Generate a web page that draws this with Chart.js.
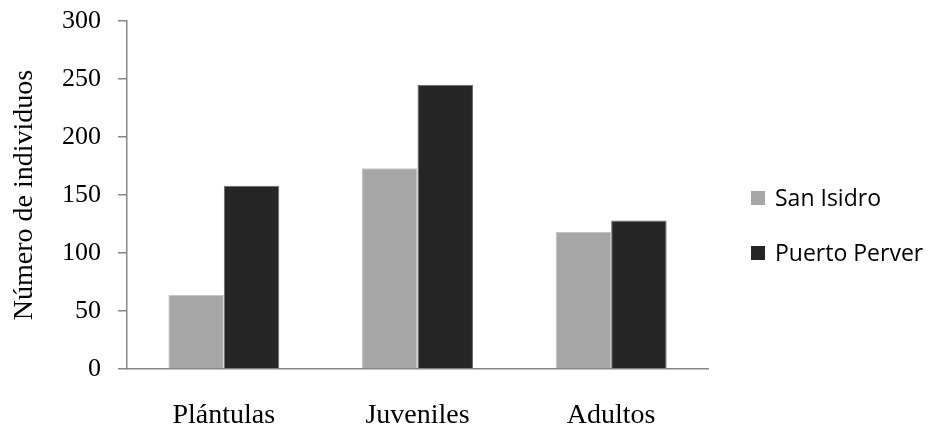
<!DOCTYPE html>
<html>
<head>
<meta charset="utf-8">
<script src="https://cdn.jsdelivr.net/npm/chart.js@4/dist/chart.umd.min.js"></script>
<style>
  html, body { margin: 0; padding: 0; background: #ffffff; }
  #wrap { width: 934px; height: 424px; }
</style>
</head>
<body>
<div id="wrap"><canvas id="c" width="934" height="424"></canvas></div>
<script>
// Individuals counted per life stage at each site
const categories = ['Plántulas', 'Juveniles', 'Adultos'];
const sanIsidro = [64, 173, 118];
const puertoPerver = [158, 245, 128];
const seriesNames = ['San Isidro', 'Puerto Perver'];
const yTicks = [0, 50, 100, 150, 200, 250, 300];

const SERIF = '"Liberation Serif", "Times New Roman", serif';
const AXIS_GREY = '#868686';

// Legend drawn to the right of the plot area
const sideLegend = {
  id: 'sideLegend',
  afterDraw(chart) {
    const ctx = chart.ctx;
    const x = 751, box = 14, gap = 10, firstY = 198, step = 55;
    ctx.save();
    ctx.font = '23px "Open Sans", sans-serif';
    ctx.textBaseline = 'middle';
    ctx.textAlign = 'left';
    chart.data.datasets.forEach((ds, i) => {
      const cy = firstY + i * step;
      ctx.fillStyle = ds.backgroundColor;
      ctx.fillRect(x, cy - box / 2, box, box);
      ctx.fillStyle = '#000000';
      ctx.fillText(ds.label, x + box + gap, cy + 1);
    });
    ctx.restore();
  }
};

new Chart(document.getElementById('c'), {
  type: 'bar',
  data: {
    labels: categories,
    datasets: [
      {
        label: seriesNames[0],
        data: sanIsidro,
        backgroundColor: '#a6a6a6',
        borderColor: '#c4c4c4',
        borderWidth: 1,
        categoryPercentage: 0.573,
        barPercentage: 1.0
      },
      {
        label: seriesNames[1],
        data: puertoPerver,
        backgroundColor: '#262626',
        borderColor: '#6a6a6a',
        borderWidth: 1,
        categoryPercentage: 0.573,
        barPercentage: 1.0
      }
    ]
  },
  options: {
    responsive: false,
    animation: false,
    devicePixelRatio: 1,
    layout: { padding: { top: 21, right: 226, bottom: 0, left: 0 } },
    plugins: {
      legend: { display: false },
      tooltip: { enabled: false }
    },
    scales: {
      x: {
        grid: { display: false },
        border: { display: true, color: AXIS_GREY, width: 1.5 },
        ticks: {
          color: '#000000',
          font: { family: SERIF, size: 28 },
          padding: 22,
          maxRotation: 0
        },
        afterFit(scale) {
          scale.height = 55;
          scale.paddingLeft = 0;
          scale.paddingRight = 0;
        }
      },
      y: {
        min: 0,
        max: 300,
        afterBuildTicks(scale) { scale.ticks = yTicks.map(v => ({ value: v })); },
        grid: {
          drawOnChartArea: false,
          drawTicks: true,
          tickLength: 9,
          color: AXIS_GREY,
          lineWidth: 1.5
        },
        border: { display: true, color: AXIS_GREY, width: 1.5 },
        ticks: {
          color: '#000000',
          font: { family: SERIF, size: 26 },
          padding: 17
        },
        title: {
          display: true,
          text: 'Número de individuos',
          color: '#000000',
          font: { family: SERIF, size: 28 },
          padding: { top: 8, bottom: 0 }
        },
        afterFit(scale) {
          scale.width = 127;
          scale.paddingTop = 0;
          scale.paddingBottom = 0;
        }
      }
    }
  },
  plugins: [sideLegend]
});
</script>
</body>
</html>
